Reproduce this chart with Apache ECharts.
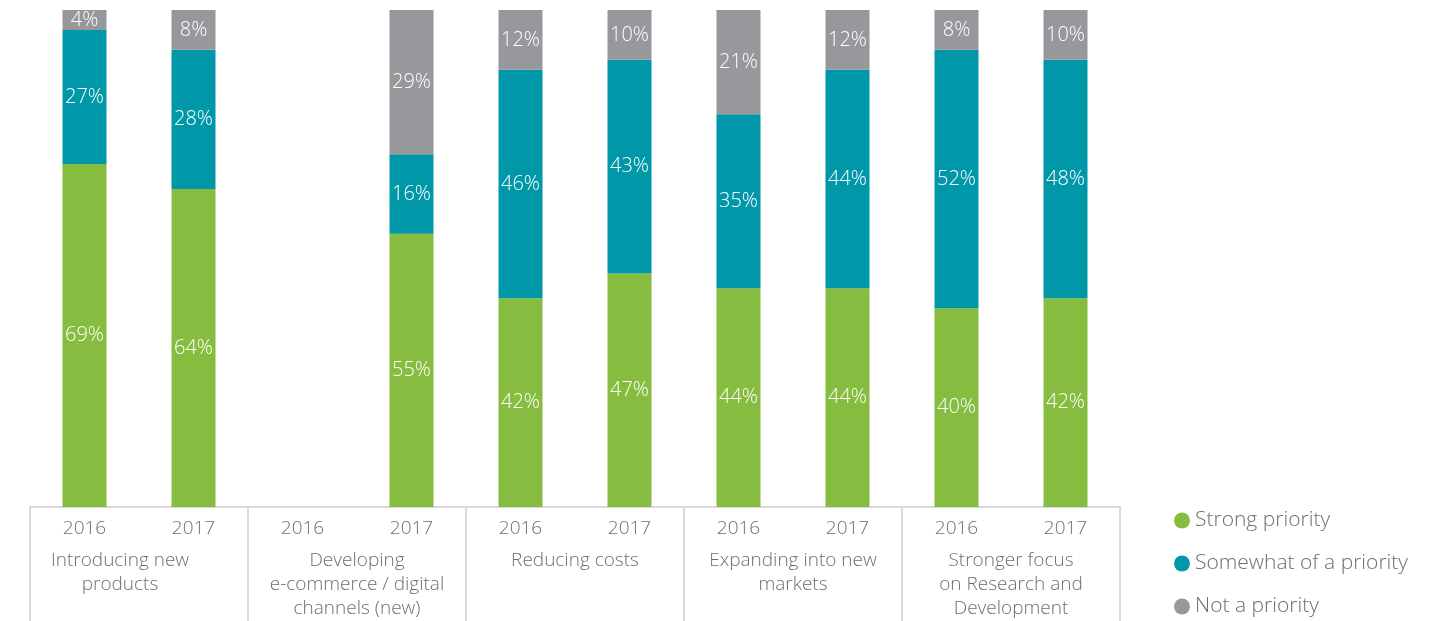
<!DOCTYPE html>
<html>
<head>
<meta charset="utf-8">
<script src="https://cdn.jsdelivr.net/npm/echarts@6/dist/echarts.min.js"></script>
<style>
  html, body { margin: 0; padding: 0; background: #fff; overflow: hidden; }
  #chart { width: 1446px; height: 621px; }
</style>
</head>
<body>
<div id="chart"></div>
<script>
const years = ['2016', '2017', '2016', '2017', '2016', '2017', '2016', '2017', '2016', '2017']
const groups = [
  'Introducing new\nproducts',
  'Developing\ne-commerce / digital\nchannels (new)',
  'Reducing costs',
  'Expanding into new\nmarkets',
  'Stronger focus\non Research and\nDevelopment'
]
const seriesNames = ['Strong priority', 'Somewhat of a priority', 'Not a priority']
const strong = [69, 64, null, 55, 42, 47, 44, 44, 40, 42]
const somewhat = [27, 28, null, 16, 46, 43, 35, 44, 52, 48]
const notPriority = [4, 8, null, 29, 12, 10, 21, 12, 8, 10]

const chart = echarts.init(document.getElementById('chart'))
const font = '"Open Sans", "DejaVu Sans", sans-serif'
const barLabel = {
  show: true,
  position: 'inside',
  color: '#fff',
  fontFamily: font,
  fontWeight: 300,
  fontSize: 20,
  formatter: p => (p.value == null ? '' : p.value + '%')
}
function bar(name, data, color) {
  return {
    name: name,
    type: 'bar',
    stack: 'total',
    barWidth: 44,
    xAxisIndex: 0,
    itemStyle: { color: color },
    label: barLabel,
    data: data
  }
}

// first group label sits a little left of its cell centre in the original
const groupData = groups.map((g, i) =>
  i === 0 ? { value: g, textStyle: { padding: [0, 38, 0, 0] } } : g
)

// one legend per entry so the column never wraps near the bottom edge
const legends = seriesNames.map((name, i) => ({
  orient: 'vertical',
  left: 1169,
  top: 505 + i * 43,
  itemWidth: 16,
  itemHeight: 16,
  icon: 'circle',
  textStyle: { fontFamily: font, fontWeight: 300, fontSize: 21, color: '#6d6e71' },
  data: [name]
}))

chart.setOption({
  animation: false,
  textStyle: { fontFamily: font },
  grid: { left: 30, width: 1090, top: 10, height: 500 },
  legend: legends,
  xAxis: [
    {
      type: 'category',
      data: years,
      position: 'bottom',
      axisLine: { show: true, lineStyle: { color: '#d9d9d9', width: 2 } },
      axisTick: { show: false },
      axisLabel: { interval: 0, color: '#6d6e71', fontSize: 19, fontWeight: 300, margin: 12, fontFamily: font }
    },
    {
      type: 'category',
      data: groupData,
      position: 'bottom',
      axisLine: { show: false },
      axisTick: { show: true, interval: 0, length: 120, lineStyle: { color: '#d9d9d9', width: 2 } },
      axisLabel: {
        interval: 0, color: '#6d6e71', fontSize: 19, fontWeight: 300, margin: 42,
        lineHeight: 24, fontFamily: font, verticalAlign: 'top', hideOverlap: false
      }
    }
  ],
  yAxis: { type: 'value', min: 0, max: 100, show: false },
  series: [
    bar(seriesNames[0], strong, '#86bc40'),
    bar(seriesNames[1], somewhat, '#0097a9'),
    bar(seriesNames[2], notPriority, '#97989c')
  ]
})
</script>
</body>
</html>
